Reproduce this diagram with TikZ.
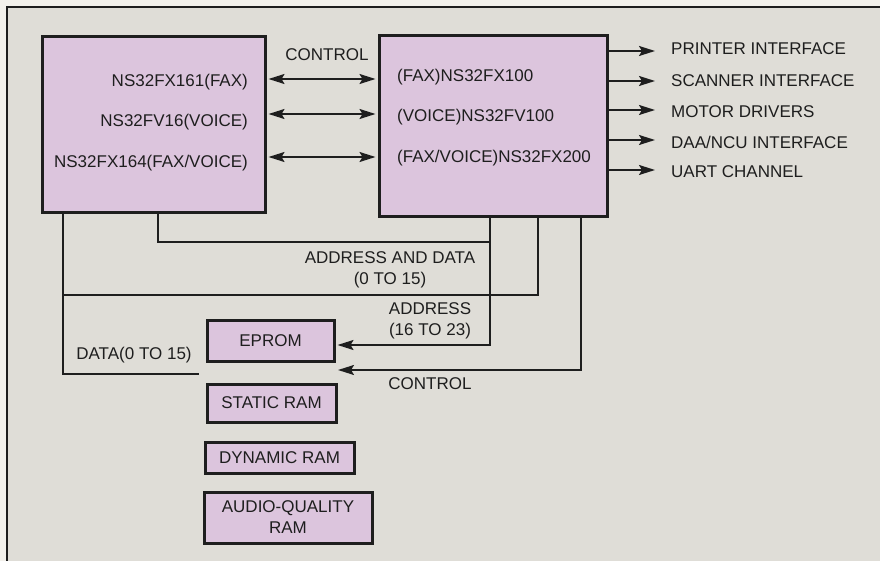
\documentclass[tikz,border=0pt]{standalone}
\usepackage{fontspec}
\setmainfont{Liberation Sans}
\usetikzlibrary{arrows.meta}
\definecolor{bgout}{HTML}{F3F1EC}
\definecolor{bgin}{HTML}{DFDDD7}
\definecolor{chip}{HTML}{DCC5DD}
\definecolor{ink}{HTML}{1E1E1E}
\begin{document}
\begin{tikzpicture}[x=1pt,y=-1pt,
  >={Stealth[length=16pt,width=10pt,inset=3pt]},
  txt/.style={font=\fontsize{17}{21}\selectfont, text=ink, inner sep=0pt, align=center},
  chipbox/.style={draw=ink, line width=3pt, fill=chip, inner sep=0pt, font=\fontsize{17}{21}\selectfont, text=ink, align=center},
  wire/.style={draw=ink, line width=1.8pt}]
\useasboundingbox (0,0) rectangle (880,561);
\fill[bgout] (0,0) rectangle (880,561);
\fill[bgin] (7,7) rectangle (880,561);
\draw[ink, line width=2.2pt] (7,561) -- (7,7) -- (880,7);

% main chips
\node[chipbox, minimum width=223pt, minimum height=176pt] (lbox) at (153.5,125) {};
\node[chipbox, minimum width=228pt, minimum height=181pt] (rbox) at (493,126.5) {};

\node[txt, anchor=east] (l1) at (248,82) {NS32FX161(FAX)};
\node[txt, anchor=east] (l2) at (248,122) {NS32FV16(VOICE)};
\node[txt, anchor=east] (l3) at (248,163) {NS32FX164(FAX/VOICE)};

\node[txt, anchor=west] (r1) at (397,77) {(FAX)NS32FX100};
\node[txt, anchor=west] (r2) at (397,117) {(VOICE)NS32FV100};
\node[txt, anchor=west] (r3) at (397,158) {(FAX/VOICE)NS32FX200};

\node[txt] (ctl) at (327,55) {CONTROL};

% control arrows between chips
\draw[wire,<->] ([xshift=2pt]lbox.east |- 0,79) -- ([xshift=-2pt]rbox.west |- 0,79);
\draw[wire,<->] ([xshift=2pt]lbox.east |- 0,114) -- ([xshift=-2pt]rbox.west |- 0,114);
\draw[wire,<->] ([xshift=2pt]lbox.east |- 0,157) -- ([xshift=-2pt]rbox.west |- 0,157);

% outputs
\node[txt, anchor=west] (o1) at (671,49) {PRINTER INTERFACE};
\node[txt, anchor=west] (o2) at (671,81) {SCANNER INTERFACE};
\node[txt, anchor=west] (o3) at (671,112) {MOTOR DRIVERS};
\node[txt, anchor=west] (o4) at (671,142) {DAA/NCU INTERFACE};
\node[txt, anchor=west] (o5) at (671,172) {UART CHANNEL};
\draw[wire,->] (rbox.east |- 0,51) -- (655,51);
\draw[wire,->] (rbox.east |- 0,81) -- (655,81);
\draw[wire,->] (rbox.east |- 0,110) -- (655,110);
\draw[wire,->] (rbox.east |- 0,140) -- (655,140);
\draw[wire,->] (rbox.east |- 0,170) -- (655,170);

% memory chips
\node[chipbox, minimum width=127pt, minimum height=41pt] (eprom) at (270.5,340.5) {EPROM};
\node[chipbox, minimum width=129pt, minimum height=38pt] (sram) at (271.5,403) {STATIC RAM};
\node[chipbox, minimum width=149pt, minimum height=31pt] (dram) at (279.5,457.5) {DYNAMIC RAM};
\node[chipbox, minimum width=168pt, minimum height=51pt] (aram) at (288,517.5) {AUDIO-QUALITY\\RAM};

% buses
\coordinate (dend) at (199,374);
\coordinate (cend) at (338,370);
\draw[wire] (lbox.south -| 158,0) |- (490,242);
\draw[wire,->] (rbox.south -| 490,0) |- ([xshift=2pt]eprom.east |- 0,345);
\draw[wire] (rbox.south -| 538,0) |- (63,295);
\draw[wire,->] (rbox.south -| 581,0) |- (cend);
\draw[wire] (lbox.south -| 63,0) |- (dend);

% bus labels
\node[txt] (adl) at (390,269.5) {ADDRESS AND DATA\\(0 TO 15)};
\node[txt] (al) at (430,320.5) {ADDRESS\\(16 TO 23)};
\node[txt] (cl) at (430,384) {CONTROL};
\node[txt] (dl) at (134,355) {DATA(0 TO 15)};
\end{tikzpicture}
\end{document}
